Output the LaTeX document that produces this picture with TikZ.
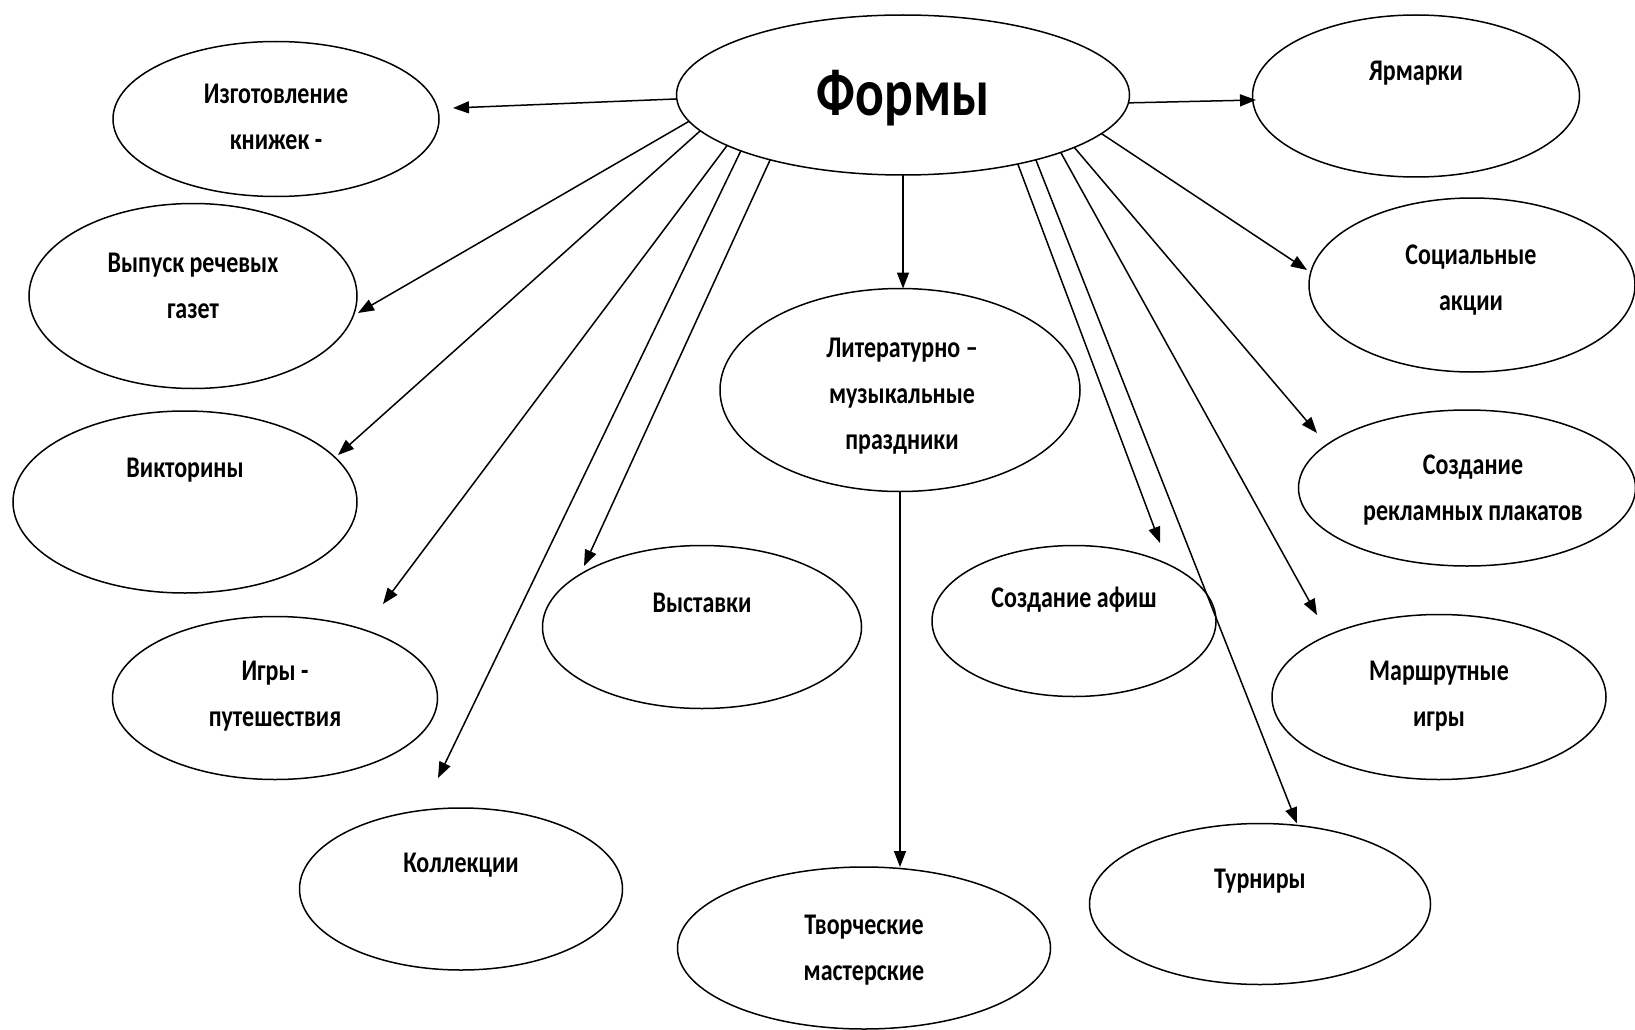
\documentclass[tikz,border=0pt]{standalone}
\usepackage{fontspec}
\setmainfont{Carlito}[FakeStretch=0.8]
\usetikzlibrary{shapes.geometric,arrows.meta}
\begin{document}
\begin{tikzpicture}[x=1pt,y=-1pt,
  oval/.style={draw, ellipse, line width=1.5pt, inner sep=0pt, outer sep=0pt},
  lbl/.style={font=\bfseries\fontsize{30}{46}\selectfont, align=center, inner sep=0pt},
  arr/.style={line width=1.5pt, -{Triangle[length=16pt,width=12pt]}}]
\useasboundingbox (0,0) rectangle (1635,1030);
\fill[white] (0,0) rectangle (1635,1030);

% ellipses
\node[oval, minimum width=453pt, minimum height=160pt] (F) at (903,95) {};
\node[oval, minimum width=326pt, minimum height=155pt] (E1) at (276,119) {};
\node[oval, minimum width=328pt, minimum height=185pt] (E2) at (193,296) {};
\node[oval, minimum width=344pt, minimum height=182pt] (E3) at (185,502) {};
\node[oval, minimum width=325pt, minimum height=163pt] (E4) at (275,698) {};
\node[oval, minimum width=323pt, minimum height=162pt] (E5) at (461,889) {};
\node[oval, minimum width=319pt, minimum height=163pt] (E6) at (702,627) {};
\node[oval, minimum width=360pt, minimum height=203pt] (E7) at (900,390) {};
\node[oval, minimum width=373pt, minimum height=162pt] (E8) at (864,948) {};
\node[oval, minimum width=284pt, minimum height=151pt] (E9) at (1074,621) {};
\node[oval, minimum width=341pt, minimum height=161pt] (E10) at (1260,904) {};
\node[oval, minimum width=334pt, minimum height=165pt] (E11) at (1439,697) {};
\node[oval, minimum width=337pt, minimum height=156pt] (E12) at (1467,488) {};
\node[oval, minimum width=326pt, minimum height=174pt] (E13) at (1472,285) {};
\node[oval, minimum width=327pt, minimum height=162pt] (E14) at (1416,96) {};

% labels
\node[lbl, font=\bfseries\fontsize{67}{70}\selectfont] (LF) at (903,98) {Формы};
\node[lbl] (L1) at (276,117) {Изготовление\\книжек -};
\node[lbl] (L2) at (193,286) {Выпуск речевых\\газет};
\node[lbl] (L3) at (185,470) {Викторины};
\node[lbl] (L4) at (275,696) {Игры -\\путешествия};
\node[lbl] (L5) at (461,865) {Коллекции};
\node[lbl] (L6) at (702,603) {Выставки};
\node[lbl] (L7) at (902,396) {Литературно –\\музыкальные\\праздники};
\node[lbl] (L8) at (864,950) {Творческие\\мастерские};
\node[lbl] (L9) at (1074,600) {Создание афиш};
\node[lbl] (L10) at (1260,881) {Турниры};
\node[lbl] (L11) at (1439,696) {Маршрутные\\игры};
\node[lbl] (L12) at (1473,490) {Создание\\рекламных плакатов};
\node[lbl] (L13) at (1471,280) {Социальные\\акции};
\node[lbl] (L14) at (1416,73) {Ярмарки};

% arrow tips
\coordinate (t1) at (453,108);
\coordinate (t2) at (358,313);
\coordinate (t3) at (338,455);
\coordinate (t4) at (383,604);
\coordinate (t5) at (438,778);
\coordinate (t6) at (584,566);
\coordinate (t9) at (1160,543);
\coordinate (t11) at (1317,615);
\coordinate (t12) at (1317,433);
\coordinate (t13) at (1307,270);
\coordinate (t14) at (1256,100);

% connectors
\draw[arr] (F.181.3) -- (t1);
\draw[arr] (F.187.4) -- (t2);
\draw[arr] (F.190.5) -- (t3);
\draw[arr] (F.196.9) -- (t4);
\draw[arr] (F.199.4) -- (t5);
\draw[arr] (F.206) -- (t6);
\draw[arr] (F.270.5) -- (F.270.5 |- E7.north);
\draw[arr] (E7.south) -- (E8.north -| E7.south);
\draw[arr] (F.329.4) -- (t9);
\draw[arr] (F.334.4) -- (E10.north -| 1297,0);
\draw[arr] (F.340.2) -- (t11);
\draw[arr] (F.343.3) -- (t12);
\draw[arr] (F.349.6) -- (t13);
\draw[arr] (F.358.5) -- (t14);
\end{tikzpicture}
\end{document}
